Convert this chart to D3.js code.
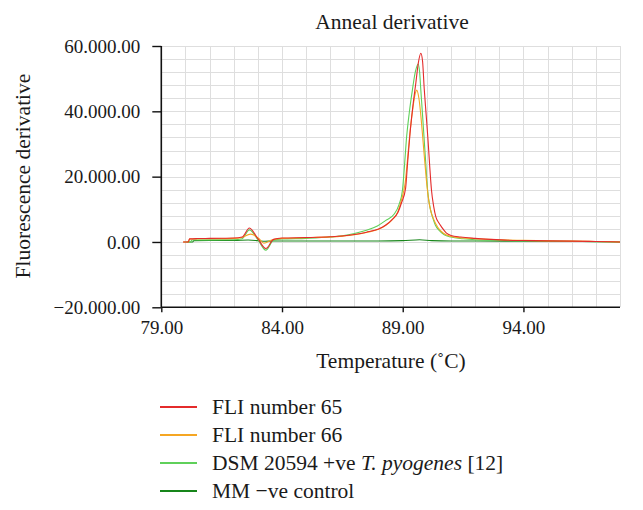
<!DOCTYPE html>
<html>
<head>
<meta charset="utf-8">
<script src="https://cdn.jsdelivr.net/npm/d3@7"></script>
<style>
  html, body { margin: 0; padding: 0; background: #ffffff; }
  svg { display: block; }
  text { font-family: "Liberation Serif", "DejaVu Serif", serif; fill: #1a1a1a; }
</style>
</head>
<body>
<svg id="chart" width="643" height="510"></svg>
<script>
// ---------------- DATA ----------------
const chartTitle = "Anneal derivative";
const xTitle = "Temperature (\u02DAC)";
const yTitle = "Fluorescence derivative";

const xDomain = [79, 98];
const yDomain = [-20000, 60000];
const xTickValues = [79, 84, 89, 94];
const yTickValues = [-20000, 0, 20000, 40000, 60000];
const xGridStep = 1;
const yGridStep = 4000;

const seriesNames = ["FLI number 65", "FLI number 66", "DSM 20594 +ve T. pyogenes [12]", "MM \u2212ve control"];
const seriesColors = ["#e42b2b", "#f5a623", "#5fd05a", "#17851a"];

// [temperature, derivative]
const fli65 = [
  [79.9,0],[80.12,0],[80.17,950],[80.5,1050],[81,1100],[81.5,1150],[82,1200],[82.35,1500],
  [82.65,4300],[83.0,1000],[83.33,-2000],[83.65,800],[84,1200],[85,1350],[86,1600],[86.5,1850],
  [87,2300],[87.5,3000],[88,4000],[88.3,5200],[88.55,6800],[88.8,9000],[88.95,12000],[89.12,16500],
  [89.2,24000],[89.3,33000],[89.42,41500],[89.54,48500],[89.65,55000],[89.75,57800],[89.82,55500],
  [89.89,47000],[89.97,39000],[90.05,31000],[90.12,23000],[90.19,16000],[90.28,11000],[90.37,7750],
  [90.5,5800],[90.6,4700],[90.8,2800],[91.0,2000],[91.4,1500],[92,1100],[92.65,800],[93.35,550],
  [94,450],[95,350],[96,250],[97,150],[98,0]
];
const fli66 = [
  [79.9,0],[80.12,0],[80.17,900],[81,1000],[82,1100],[82.3,1300],[82.7,2400],[83.05,1000],
  [83.25,-400],[83.6,700],[84,1100],[85,1300],[86,1550],[86.5,1800],[87,2200],[87.5,2900],
  [88,3900],[88.3,5100],[88.55,6700],[88.8,9300],[88.97,13500],[89.1,18000],[89.2,25500],
  [89.3,33500],[89.42,41000],[89.52,45500],[89.58,46500],[89.67,44000],[89.76,38000],[89.84,31000],
  [89.92,24000],[90.0,17500],[90.08,12500],[90.18,9000],[90.28,7000],[90.45,4500],[90.7,2600],
  [91.0,1700],[91.5,1200],[92,1000],[93,700],[94,500],[95,350],[96,250],[97,150],[98,0]
];
const dsm20594 = [
  [79.95,0],[80.2,0],[80.27,600],[81,650],[82,700],[82.35,1000],[82.65,3700],[83.0,700],
  [83.33,-2500],[83.65,500],[84,900],[85,1100],[86,1500],[86.5,1900],[87,2600],[87.5,3600],
  [87.95,4900],[88.3,6600],[88.64,8500],[88.85,11500],[88.99,15900],[89.07,23000],[89.15,31200],
  [89.27,39500],[89.4,46500],[89.52,52000],[89.64,54500],[89.7,52000],[89.75,46500],[89.82,39000],
  [89.89,31200],[89.96,23500],[90.03,15900],[90.12,11000],[90.23,7750],[90.35,5200],[90.5,3600],
  [90.72,2200],[91.0,1500],[91.5,1000],[92,700],[93,500],[94,380],[95,300],[96,200],[97,100],[98,0]
];
const mmControl = [
  [80.05,0],[80.3,0],[80.35,400],[81,450],[82,450],[82.6,600],[83,400],[83.3,200],[83.6,300],
  [84,300],[86,300],[88,300],[89,400],[89.7,700],[90.2,400],[91,300],[92,300],[94,200],[96,150],[98,0]
];
const seriesData = [fli65, fli66, dsm20594, mmControl];

// ---------------- CHART ----------------
const svg = d3.select("#chart");
const plot = { left: 161.3, right: 620, top: 46, bottom: 307.3 };

const x = d3.scaleLinear().domain(xDomain).range([plot.left, plot.right]);
const y = d3.scaleLinear().domain(yDomain).range([plot.bottom, plot.top]);

const loc = d3.formatLocale({ decimal: ".", thousands: ".", grouping: [3], currency: ["", ""], minus: "\u2212" });
const yFmt = loc.format(",.2f");
const xFmt = d3.format(".2f");

// gridlines
const xGrid = d3.range(xDomain[0] + xGridStep, xDomain[1] + 0.001, xGridStep);
const yGrid = d3.range(yDomain[0] + yGridStep, yDomain[1] + 1, yGridStep);
const grid = svg.append("g").attr("stroke", "#dedede").attr("stroke-width", 1).attr("shape-rendering", "crispEdges");
grid.selectAll("line.v").data(xGrid).join("line").attr("class", "v")
  .attr("x1", d => Math.round(x(d)) + 0.5).attr("x2", d => Math.round(x(d)) + 0.5)
  .attr("y1", plot.top).attr("y2", plot.bottom);
grid.selectAll("line.h").data(yGrid).join("line").attr("class", "h")
  .attr("x1", plot.left).attr("x2", plot.right)
  .attr("y1", d => Math.round(y(d)) + 0.5).attr("y2", d => Math.round(y(d)) + 0.5);

// series
const line = d3.line().x(d => x(d[0])).y(d => y(d[1])).curve(d3.curveMonotoneX);
svg.append("g").selectAll("path").data(seriesData.slice().reverse()).join("path")
  .attr("d", line)
  .attr("fill", "none")
  .attr("stroke", (d, i) => seriesColors[seriesData.length - 1 - i])
  .attr("stroke-width", 1.1);

// axes
const yAxis = d3.axisLeft(y).tickValues(yTickValues).tickFormat(yFmt).tickSize(9).tickPadding(12);
const xAxis = d3.axisBottom(x).tickValues(xTickValues).tickFormat(xFmt).tickSize(5).tickPadding(8);

const gy = svg.append("g").attr("transform", `translate(${plot.left},0)`).call(yAxis);
const gx = svg.append("g").attr("transform", `translate(0,${plot.bottom})`).call(xAxis);
[gx, gy].forEach(g => {
  g.select(".domain").attr("stroke", "#111").attr("stroke-width", 1.6);
  g.selectAll(".tick line").attr("stroke", "#111").attr("stroke-width", 1.4);
  g.selectAll(".tick text").style("font-family", '"Liberation Serif", "DejaVu Serif", serif')
    .style("font-size", "19px").attr("fill", "#1a1a1a");
});
gy.select(".domain").attr("d", `M0,${plot.top}V${plot.bottom}`);
gx.select(".domain").attr("d", `M${plot.left},0H${plot.right}`);

// titles
svg.append("text").attr("x", 392).attr("y", 29).attr("text-anchor", "middle")
  .style("font-size", "21.5px").text(chartTitle);
svg.append("text").attr("x", 391).attr("y", 368).attr("text-anchor", "middle")
  .style("font-size", "21.5px").text(xTitle);
svg.append("text").attr("transform", "translate(30,176) rotate(-90)").attr("text-anchor", "middle")
  .style("font-size", "21.5px").text(yTitle);

// legend
const legendY = [407, 435, 463, 491];
const lg = svg.append("g");
seriesNames.forEach((name, i) => {
  const yy = legendY[i];
  lg.append("line").attr("x1", 160).attr("x2", 197).attr("y1", yy).attr("y2", yy)
    .attr("stroke", seriesColors[i]).attr("stroke-width", 1.8);
  const t = lg.append("text").attr("x", 212).attr("y", yy + 7).style("font-size", "21.5px");
  if (i === 2) {
    t.append("tspan").text("DSM 20594 +ve ");
    t.append("tspan").style("font-style", "italic").text("T. pyogenes");
    t.append("tspan").text(" [12]");
  } else {
    t.text(name);
  }
});
</script>
</body>
</html>
